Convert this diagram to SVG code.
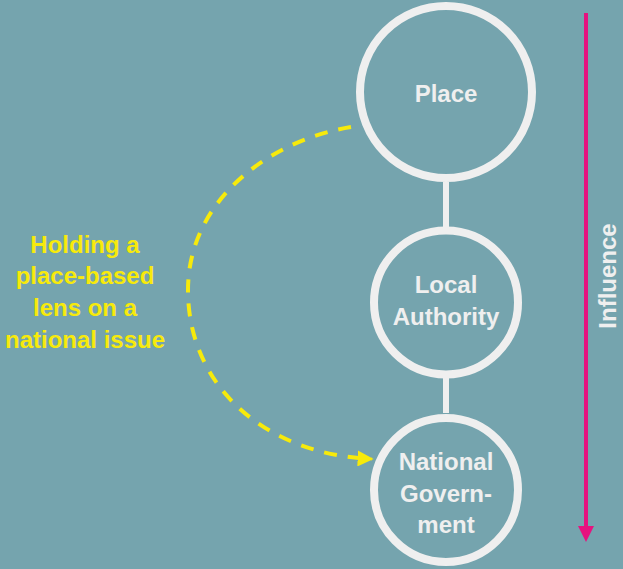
<svg xmlns="http://www.w3.org/2000/svg" width="623" height="569" viewBox="0 0 623 569">
<style>
.node{fill:none;stroke:#efefef;stroke-width:8}
.lbl{font-family:"Liberation Sans",Arial,sans-serif;font-weight:bold;font-size:24px;fill:#efefef;text-anchor:middle}
.ylbl{font-family:"Liberation Sans",Arial,sans-serif;font-weight:bold;font-size:24px;fill:#f7ea0b;text-anchor:middle}
.link{stroke:#efefef;stroke-width:6}
</style>
<defs>
<marker id="yarrow" viewBox="0 0 10 10" refX="9" refY="5" markerWidth="4" markerHeight="4" orient="auto" markerUnits="strokeWidth">
<path d="M0,0 L10,5 L0,10 z" fill="#f7ea0b"/>
</marker>
</defs>
<rect width="623" height="569" fill="#75a4ae"/>
<g id="connectors">
<line class="link" x1="446" y1="182" x2="446" y2="227"/>
<line class="link" x1="446" y1="378" x2="446" y2="413"/>
<path d="M351,127 C270,140 188,200 188,290 C188,390 270,455 372,459" fill="none" stroke="#f7ea0b" stroke-width="4" stroke-dasharray="13 11" marker-end="url(#yarrow)"/>
<line x1="586" y1="13" x2="586" y2="530" stroke="#e6127f" stroke-width="4"/>
<polygon points="578,526 594,526 586,542" fill="#e6127f"/>
</g>
<g id="place">
<circle class="node" cx="446" cy="92" r="86"/>
<text class="lbl" x="446" y="102">Place</text>
</g>
<g id="local-authority">
<circle class="node" cx="446" cy="302.5" r="72"/>
<text class="lbl" x="446" y="293">Local</text>
<text class="lbl" x="446" y="325">Authority</text>
</g>
<g id="national-government">
<circle class="node" cx="446" cy="490" r="72"/>
<text class="lbl" x="446" y="470">National</text>
<text class="lbl" x="446" y="502">Govern-</text>
<text class="lbl" x="446" y="533">ment</text>
</g>
<g id="dashed-label">
<text class="ylbl" x="85" y="253">Holding a</text>
<text class="ylbl" x="85" y="284">place-based</text>
<text class="ylbl" x="85" y="316">lens on a</text>
<text class="ylbl" x="85" y="348">national issue</text>
</g>
<g id="influence-label">
<text class="lbl" font-size="23" transform="translate(616,276) rotate(-90)" x="0" y="0">Influence</text>
</g>
</svg>
